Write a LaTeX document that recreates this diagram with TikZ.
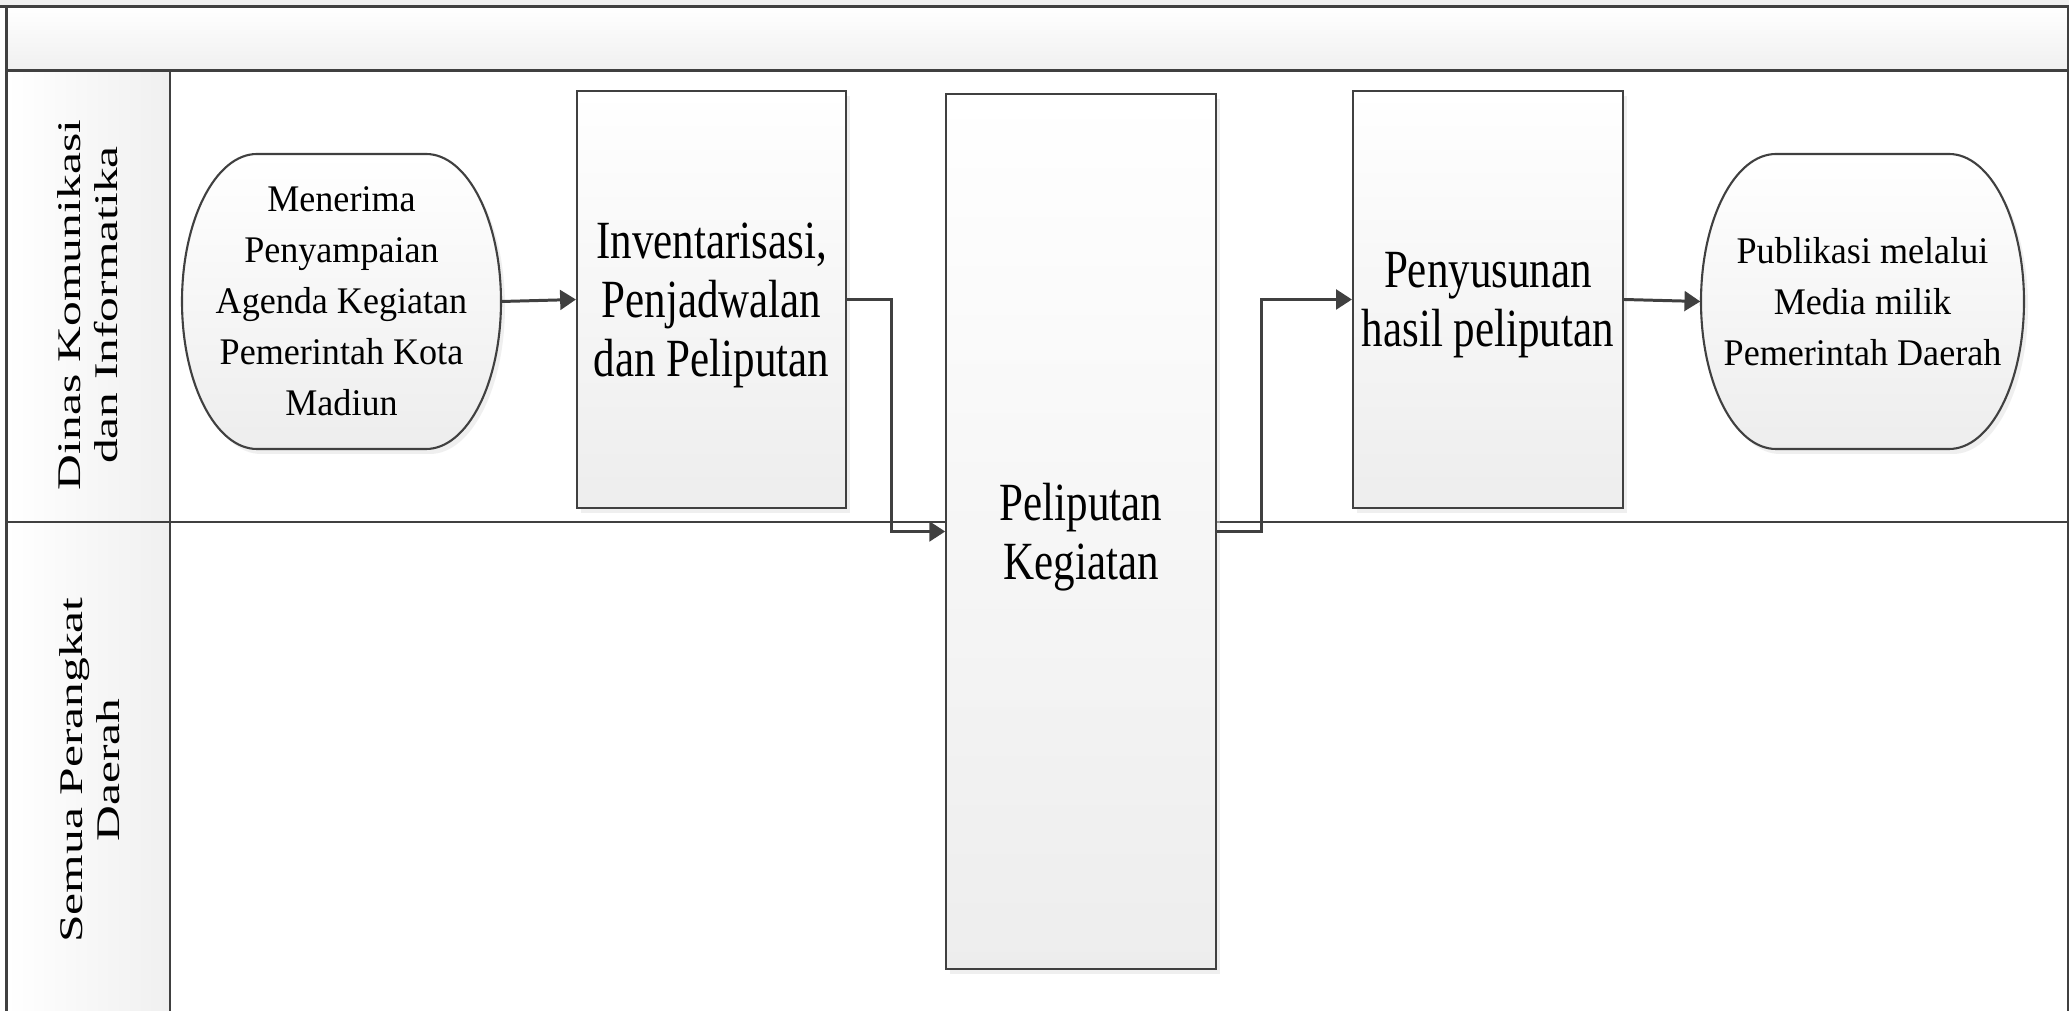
\documentclass[tikz,border=0pt]{standalone}
\usepackage{fontspec}
\setmainfont{Liberation Serif}
\newfontfamily\boxfont[FakeStretch=0.8]{Liberation Serif}
\newfontfamily\termfont[FakeStretch=0.96]{Liberation Serif}
\newfontfamily\lanefont[FakeStretch=1.5]{Liberation Serif}
\usetikzlibrary{arrows.meta,shadows}
\definecolor{edge}{HTML}{404040}

\begin{document}
\begin{tikzpicture}[>={Triangle[length=4.5pt,width=5.6pt]},
  lane/.style={draw=edge, line width=0.7pt},
  process/.style={draw=edge, line width=0.6pt, top color=white, bottom color=gray!14, inner sep=0pt, align=center,
    font=\boxfont\fontsize{15.3}{16.8}\selectfont, text depth=0pt,
    drop shadow={shadow xshift=0.04cm, shadow yshift=-0.05cm, fill=black!12}},
  termshape/.style={draw=edge, line width=0.6pt, top color=white, bottom color=gray!14,
    drop shadow={shadow xshift=0.04cm, shadow yshift=-0.05cm, fill=black!12}},
  termtext/.style={inner sep=0pt, align=center, font=\termfont\fontsize{10.7}{14.5}\selectfont},
  lanelabel/.style={rotate=90, align=center, font=\lanefont\fontsize{9.4}{10.6}\selectfont},
  flow/.style={->, draw=edge, line width=0.85pt}]
\useasboundingbox (0,0) rectangle (20.69,-10.11);

% pool and lanes
\fill[gray!12] (0,0) rectangle (20.69,-0.065);
\shade[top color=white, bottom color=gray!12] (0.065,-0.065) rectangle (20.68,-0.705);
\shade[left color=white, right color=gray!12] (0.065,-0.705) rectangle (1.70,-10.3);
\draw[lane] (0,-0.065) -- (20.69,-0.065);
\draw[lane] (0.065,-0.705) -- (20.68,-0.705);
\draw[lane] (0.065,-5.22) -- (20.68,-5.22);
\draw[lane] (0.065,-0.065) -- (0.065,-10.3);
\draw[lane] (1.70,-0.705) -- (1.70,-10.3);
\draw[lane] (20.68,-0.065) -- (20.68,-10.3);

\node[lanelabel] (lane1) at (0.88,-3.05) {Dinas Komunikasi\\dan Informatika};
\node[lanelabel] (lane2) at (0.9,-7.70) {Semua Perangkat\\Daerah};

% start / end shapes
\path[termshape] (2.57,-1.54) -- (4.26,-1.54) arc[start angle=90, end angle=-90, x radius=0.75, y radius=1.475]
  -- (2.57,-4.49) arc[start angle=270, end angle=90, x radius=0.75, y radius=1.475] -- cycle;
\path[termshape] (17.76,-1.54) -- (19.49,-1.54) arc[start angle=90, end angle=-90, x radius=0.75, y radius=1.475]
  -- (17.76,-4.49) arc[start angle=270, end angle=90, x radius=0.75, y radius=1.475] -- cycle;

\node[termtext, minimum width=3.19cm, minimum height=2.95cm] (t1) at (3.415,-3.015) {Menerima\\Penyampaian\\Agenda Kegiatan\\Pemerintah Kota\\Madiun};
\node[process, minimum width=2.69cm, minimum height=4.17cm] (b2) at (7.115,-2.995) {Inventarisasi,\\Penjadwalan\\dan Peliputan};
\node[process, minimum width=2.695cm, minimum height=8.75cm] (b3) at (10.81,-5.315) {Peliputan\\Kegiatan};
\node[process, minimum width=2.70cm, minimum height=4.17cm] (b4) at (14.88,-2.995) {Penyusunan\\hasil peliputan};
\node[termtext, minimum width=3.23cm, minimum height=2.95cm] (t5) at (18.625,-3.015) {Publikasi melalui\\Media milik\\Pemerintah Daerah};

\draw[flow] (t1.east) -- (b2.west);
\draw[flow] (b2.east) -- ++(0.44,0) |- (b3.west);
\draw[flow] (b3.east) -- ++(0.45,0) |- (b4.west);
\draw[flow] (b4.east) -- (t5.west);
\end{tikzpicture}
\end{document}
